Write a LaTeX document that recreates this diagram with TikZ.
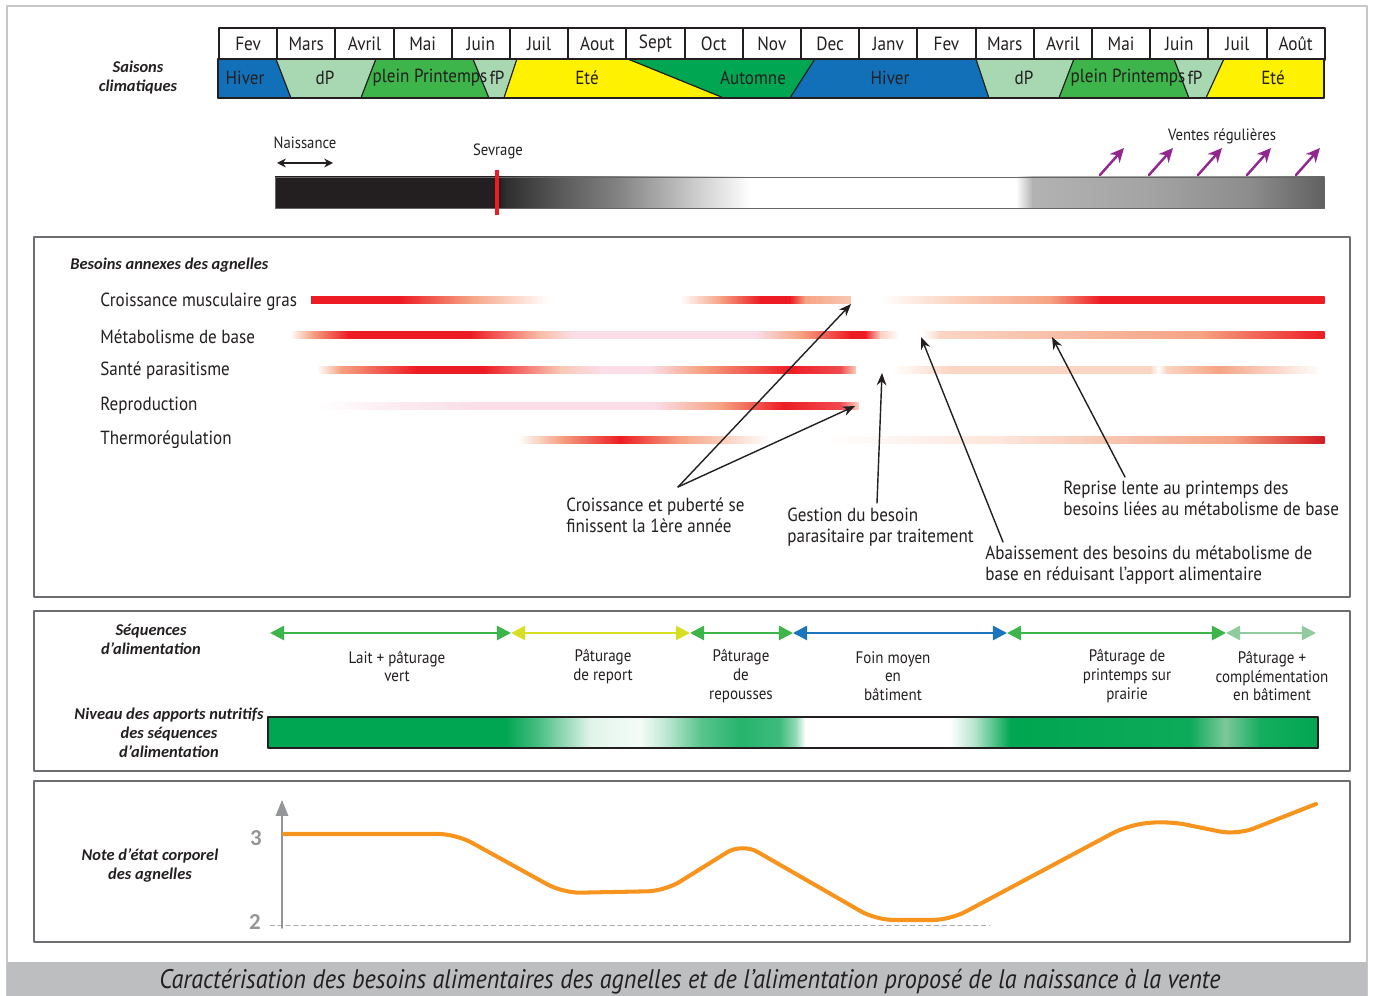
\documentclass[tikz,border=0pt]{standalone}
\usepackage{fontspec}
\setmainfont{PT Sans}[FakeStretch=0.9]
\newfontfamily\grasfont{Carlito}
\usepackage{xcolor}
\usepackage{tikz}
\usetikzlibrary{arrows.meta}
\usetikzlibrary{calc}

\definecolor{ink}{HTML}{231F20}
\definecolor{hiver}{HTML}{1170B8}
\definecolor{debprin}{HTML}{A8D8B1}
\definecolor{pleinprin}{HTML}{3DB54A}
\definecolor{automne}{HTML}{00A651}
\definecolor{ete}{HTML}{FFF200}
\definecolor{vente}{HTML}{92278F}
\definecolor{besoin}{HTML}{ED1C24}
\definecolor{saumon}{HTML}{F5A383}
\definecolor{pale}{HTML}{FBD5C3}
\definecolor{rose}{HTML}{FADDE6}
\definecolor{cadre}{HTML}{6D6E71}
\definecolor{pied}{HTML}{BCBEC0}
\definecolor{axe}{HTML}{939598}
\definecolor{nec}{HTML}{F7941D}
\definecolor{seqjaune}{HTML}{D7DF23}
\definecolor{seqbleu}{HTML}{1C75BC}
\definecolor{seqclair}{HTML}{8FCB9F}
\definecolor{herbe}{HTML}{00A651}
\definecolor{herbeclair}{HTML}{7DC99A}

% bande en degrade : y, demi-hauteur, liste x/couleur
\newcommand{\degrade}[3]{%
  \foreach \xb/\cb [remember=\xb as \xa (initially 0), remember=\cb as \ca (initially white)] in {#3} {
    \ifdim\xa pt>0pt
      \shade[left color=\ca, right color=\cb] (\xa,#1-#2) rectangle (\xb+0.6,#1+#2);
    \fi
  }%
}

\begin{document}
\begin{tikzpicture}[x=0.02cm, y=-0.02cm, >=Stealth, line cap=round, line join=round,
    mois/.style={draw=ink, line width=1.1pt, fill=white, minimum width=1.164cm, minimum height=0.64cm,
      inner sep=0pt, anchor=north west, text=ink, font=\fontsize{10.9}{12}\selectfont},
    saison/.style={inner sep=0pt, text=ink, font=\fontsize{10.8}{12}\selectfont},
    titre/.style={inner sep=0pt, align=center, text=ink, font=\grasfont\fontsize{9.35}{10.8}\selectfont\bfseries\itshape},
    ligne/.style={inner sep=0pt, anchor=west, text=ink, font=\fontsize{10.8}{13}\selectfont},
    note/.style={inner sep=0pt, anchor=west, align=left, text=ink, font=\fontsize{10.8}{12}\selectfont},
    petit/.style={inner sep=0pt, text=ink, font=\fontsize{9.3}{11}\selectfont},
    seqtxt/.style={inner sep=0pt, align=center, text=ink, font=\fontsize{9.5}{10.6}\selectfont},
    chiffre/.style={inner sep=0pt, text=axe, font=\grasfont\fontsize{13}{14}\selectfont\bfseries},
    legende/.style={inner sep=0pt, text=ink, font=\fontsize{15.3}{17}\selectfont\itshape},
    boite/.style={draw=cadre, line width=0.9pt},
    fleche/.style={->, >={Stealth[length=7pt, width=5.5pt]}, ink, line width=0.8pt},
    seqfleche/.style={{Triangle[length=8pt, width=8pt]}-{Triangle[length=8pt, width=8pt]}, line width=1.4pt},
    ventefleche/.style={-{Stealth[length=8pt, width=7.5pt]}, vente, line width=1.4pt}]

    \useasboundingbox (0,0) rectangle (1373,996);

    % cadre general et legende
    \draw[black!22, line width=1.2pt] (7,6) rectangle (1367,996);
    \fill[pied] (7,962) rectangle (1367,996);
    \node[legende] (leg) at (690,982) {Caractérisation des besoins alimentaires des agnelles et de l’alimentation proposé de la naissance à la vente};

    % mois
    \foreach \m [count=\i] in {Fev,Mars,Avril,Mai,Juin,Juil,Aout,Sept,Oct,Nov,Dec,Janv,Fev,Mars,Avril,Mai,Juin,Juil,Août}
        \node[mois] (m\i) at ({218+58.2*(\i-1)},27) {\m};

    % saisons climatiques
    \foreach \a/\b/\c/\d/\col in {
        218/276/291/218/hiver, 276/376/361/291/debprin, 376/473/489/361/pleinprin, 473/517/504/489/debprin,
        517/628/724/504/ete, 628/815/790/724/automne, 815/976/989/790/hiver, 976/1074/1059/989/debprin,
        1074/1174/1189/1059/pleinprin, 1174/1224/1206/1189/debprin, 1224/1324/1324/1206/ete}
        \filldraw[fill=\col, draw=ink, line width=0.6pt] (\a,59) -- (\b,59) -- (\c,98) -- (\d,98) -- cycle;
    \draw[ink, line width=1.1pt] (218,59) rectangle (1324,98);
    \foreach \lab/\lx [count=\i] in {Hiver/245, dP/325, plein Printemps/430, fP/497, Eté/587, Automne/753,
        Hiver/890, dP/1024, plein Printemps/1128, fP/1195, Eté/1273}
        \node[saison] (s\i) at (\lx,78) {\lab};
    \node[titre] (saisons) at (138,78) {Saisons\\climatiques};

    % naissance, sevrage, ventes
    \degrade{192.5}{15.5}{275/ink, 499/ink, 505/{black!82}, 560/{black!65}, 620/{black!48}, 690/{black!22}, 750/white,
        1016/white, 1032/{black!30}, 1150/{black!36}, 1250/{black!45}, 1324/{black!62}}
    \draw[black!60, line width=0.5pt] (275,177) rectangle (1324,208);
    \draw[besoin, line width=2.3pt, line cap=butt] (497,170) -- (497,215);

    \node[petit] (naissance) at (305,143) {Naissance};
    \coordinate (na) at (277,163);
    \coordinate (nb) at (333,163);
    \draw[{Stealth[length=5pt, width=5pt]}-{Stealth[length=5pt, width=5pt]}, ink, line width=1.3pt] (na) -- (nb);
    \node[petit] (sevrage) at (498,151) {Sevrage};
    \node[petit] (ventes) at (1222,136) {Ventes régulières};
    \foreach \x [count=\i] in {1100,1149,1198,1247,1296} {
        \coordinate (va\i) at (\x,175);
        \coordinate (vb\i) at (\x+24,148);
        \draw[ventefleche] (va\i) -- (vb\i);
    }

    % besoins annexes
    \draw[boite] (34,237) rectangle (1350,597);
    \node[titre, anchor=west] (besoins) at (70,265) {Besoins annexes des agnelles};
    \foreach \lab [count=\i] in {Croissance musculaire gras, Métabolisme de base, Santé parasitisme, Reproduction, Thermorégulation}
        \node[ligne] (b\i) at (100,{302+34.5*(\i-1)}) {\lab};

    \degrade{300}{3.2}{311/besoin, 400/besoin, 470/saumon, 548/white, 680/white, 720/saumon, 760/besoin, 790/besoin,
        805/saumon, 850/{saumon!60}, 851/white, 880/white, 950/pale, 1050/saumon, 1100/besoin, 1324/besoin}
    \degrade{335}{3.2}{290/white, 312/saumon, 348/besoin, 470/besoin, 540/{saumon!70}, 572/rose, 756/rose, 800/saumon,
        850/besoin, 865/besoin, 880/{saumon!50}, 899/white, 923/white, 940/pale, 1100/{saumon!80}, 1200/saumon, 1324/besoin}
    \degrade{370}{3.2}{317/white, 340/saumon, 416/besoin, 484/besoin, 560/{saumon!60}, 600/rose, 650/rose, 700/saumon,
        790/besoin, 840/{besoin!80}, 855/{saumon!60}, 856/white, 892/white, 950/pale, 1150/pale, 1158/white, 1166/pale,
        1218/saumon, 1320/white}
    \degrade{406}{3.2}{317/white, 400/{rose!60}, 480/rose, 654/rose, 720/saumon, 783/besoin, 840/{besoin!80}, 858/{saumon!50}}
    \degrade{440}{3.2}{518/white, 560/saumon, 620/besoin, 680/saumon, 770/white, 824/white, 1000/{pale!60}, 1232/saumon,
        1324/{besoin!90!black}}

    \node[note] (puberte) at (566,515.5) {Croissance et puberté se\\finissent la 1ère année};
    \node[note] (gestion) at (787,527.5) {Gestion du besoin\\parasitaire par traitement};
    \node[note] (abaisse) at (985,565.5) {Abaissement des besoins du métabolisme de\\base en réduisant l’apport alimentaire};
    \node[note] (reprise) at (1063,498.5) {Reprise lente au printemps des\\besoins liées au métabolisme de base};

    \coordinate (pb) at (678,487);
    \coordinate (gb) at (877,503);
    \coordinate (ab) at (1003,542);
    \coordinate (rb) at (1125,477);
    \coordinate (t1) at (851,304);
    \coordinate (t2) at (855,406);
    \coordinate (t3) at (882,373);
    \coordinate (t4) at (921,337);
    \coordinate (t5) at (1052,337);
    \draw[fleche] (pb) -- (t1);
    \draw[fleche] (pb) -- (t2);
    \draw[fleche] (gb) -- (t3);
    \draw[fleche] (ab) -- (t4);
    \draw[fleche] (rb) -- (t5);

    % sequences d'alimentation
    \draw[boite] (34,611) rectangle (1350,771);
    \node[titre] (sequences) at (151,639) {Séquences\\d’alimentation};
    \node[titre] (niveau) at (169,733) {Niveau des apports nutritifs\\des séquences\\d’alimentation};

    \foreach \x [count=\i from 0] in {270,511,690,793,1007,1226,1316}
        \coordinate (q\i) at (\x,633);
    \foreach \a/\b/\col in {q0/q1/pleinprin, q1/q2/seqjaune, q2/q3/pleinprin, q3/q4/seqbleu, q4/q5/pleinprin, q5/q6/seqclair}
        \draw[seqfleche, \col] (\a) -- (\b);

    \node[seqtxt] (lait) at (397,666.5) {Lait + pâturage\\vert};
    \node[seqtxt] (report) at (603,666.5) {Pâturage\\de report};
    \node[seqtxt] (repousses) at (741,676) {Pâturage\\de\\repousses};
    \node[seqtxt] (foin) at (893,676) {Foin moyen\\en\\bâtiment};
    \node[seqtxt] (prairie) at (1127,676) {Pâturage de\\printemps sur\\prairie};
    \node[seqtxt] (complement) at (1272,676) {Pâturage +\\complémentation\\en bâtiment};

    \degrade{732.5}{15.5}{268/herbe, 505/herbe, 540/{herbe!70}, 590/{herbe!12}, 640/{herbe!4}, 665/{herbe!25}, 700/{herbe!65},
        740/{herbe!85}, 780/{herbe!75}, 796/{herbe!40}, 805/white, 950/white, 975/{herbe!30}, 1010/herbe, 1190/{herbe!95},
        1225/herbeclair, 1260/{herbe!92}, 1318/herbe}
    \draw[ink, line width=1.1pt] (268,717) rectangle (1318,748);

    % note d'etat corporel
    \draw[boite] (34,781) rectangle (1350,942);
    \node[titre] (note) at (150,865.5) {Note d’état corporel\\des agnelles};
    \draw[axe!80, dash pattern=on 2.5pt off 2pt, line width=0.5pt] (270,925) -- (990,925);
    \coordinate (a0) at (282,928);
    \coordinate (a1) at (282,800);
    \draw[axe, line width=1.1pt, -{Triangle[length=9pt, width=7pt]}] (a0) -- (a1);
    \node[chiffre] (trois) at (256,838) {3};
    \node[chiffre] (deux) at (255,922) {2};

    \draw[nec, line width=2.3pt, rounded corners=0.35cm] (284,834) -- (456,834) -- (563,893) -- (665,891) -- (742,843)
        -- (876,920) -- (950,920) -- (1128,825) -- (1168,821) -- (1237,835) -- (1316,804);

\end{tikzpicture}
\end{document}
